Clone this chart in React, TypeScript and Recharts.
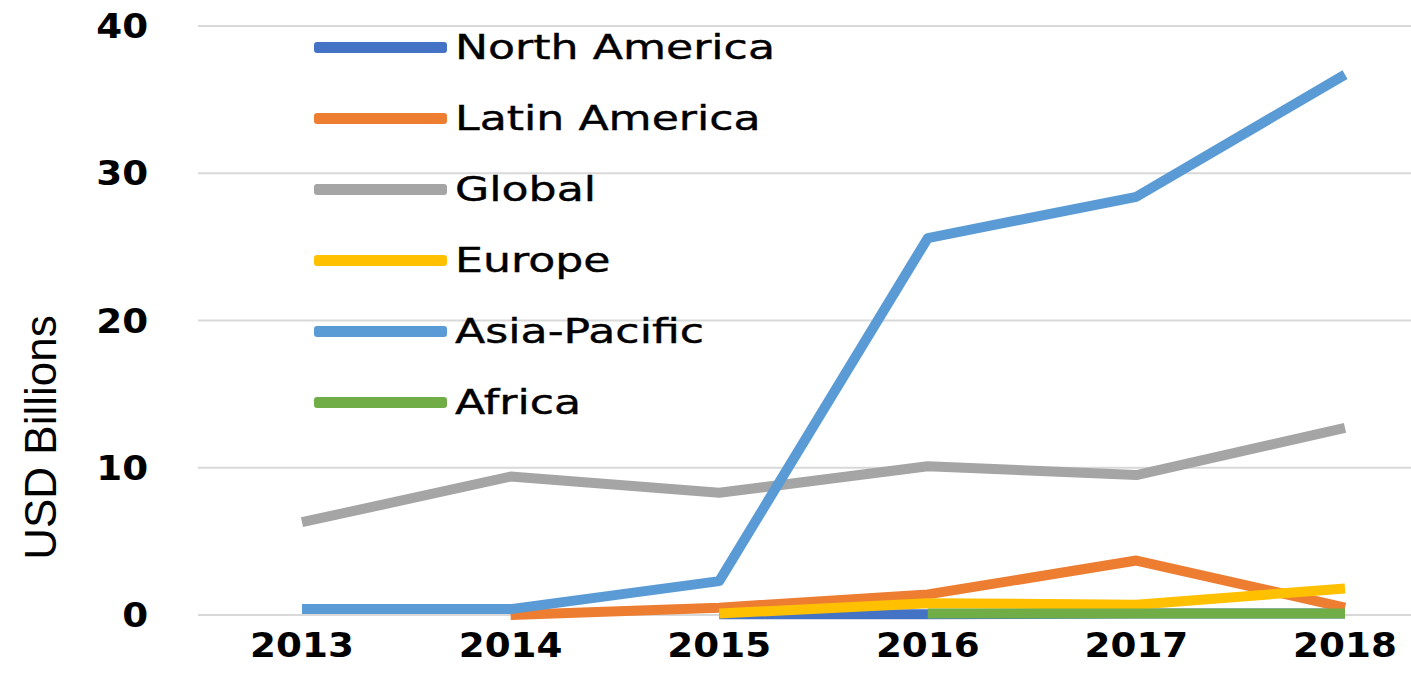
import { LineChart, Line, XAxis, YAxis, CartesianGrid } from 'recharts';

const years = ['2013', '2014', '2015', '2016', '2017', '2018'];
const yTicks = [0, 10, 20, 30, 40];

const northAmerica = [null, null, 0.05, 0.05, 0.1, 0.1];
const latinAmerica = [null, 0, 0.5, 1.4, 3.7, 0.5];
const global = [6.3, 9.4, 8.3, 10.1, 9.5, 12.7];
const europe = [null, null, 0.1, 0.8, 0.7, 1.8];
const asiaPacific = [0.4, 0.4, 2.3, 25.6, 28.4, 36.7];
const africa = [null, null, null, 0.1, 0.1, 0.1];

const series = [
    { key: 'North America', values: northAmerica, color: '#4472C4' },
    { key: 'Latin America', values: latinAmerica, color: '#ED7D31' },
    { key: 'Global', values: global, color: '#A5A5A5' },
    { key: 'Europe', values: europe, color: '#FFC000' },
    { key: 'Asia-Pacific', values: asiaPacific, color: '#5B9BD5' },
    { key: 'Africa', values: africa, color: '#70AD47' },
];

const data = years.map((year, i) => {
    const row: any = { year };
    series.forEach((s) => { row[s.key] = s.values[i]; });
    return row;
});

const XTick = ({ x, y, payload }: any) => (
    <g transform={`translate(${x},${y})`}>
        <text
            x={0}
            y={0}
            dy={34}
            textAnchor="middle"
            transform="scale(1.13,1)"
            fontFamily="DejaVu Sans"
            fontWeight="bold"
            fontSize={33}
            fill="#000"
        >
            {payload.value}
        </text>
    </g>
);

const YTick = ({ x, y, payload }: any) => (
    <g transform={`translate(${x},${y})`}>
        <text
            x={-37}
            y={0}
            dy={12}
            textAnchor="end"
            transform="scale(1.13,1)"
            fontFamily="DejaVu Sans"
            fontWeight="bold"
            fontSize={33}
            fill="#000"
        >
            {payload.value}
        </text>
    </g>
);

// legend is drawn as a plain overlay so it doesn't eat into the plot area
const LegendBox = () => (
    <div style={{ position: 'absolute', left: 314, top: 30 }}>
        {series.map((s, i) => (
            <div key={s.key} style={{ position: 'absolute', left: 0, top: i * 71, height: 34, display: 'flex', alignItems: 'center' }}>
                <div style={{ width: 133, height: 11, background: s.color, borderRadius: 3 }} />
                <span
                    style={{
                        marginLeft: 8,
                        fontFamily: 'DejaVu Sans',
                        fontSize: 34,
                        color: '#000',
                        whiteSpace: 'nowrap',
                        display: 'inline-block',
                        transform: 'scaleX(1.3)',
                        transformOrigin: 'left center',
                        lineHeight: '34px',
                        WebkitTextStroke: '0.4px #000',
                    }}
                >
                    {s.key}
                </span>
            </div>
        ))}
    </div>
);

export default function App() {
    return (
        <div style={{ position: 'absolute', left: 0, top: 0, width: 1411, height: 689, background: '#fff', overflow: 'hidden' }}>
            <LineChart width={1411} height={689} data={data} margin={{ top: 26, right: 0, bottom: 0, left: 0 }}>
                <CartesianGrid vertical={false} stroke="#d9d9d9" strokeWidth={2} />
                <XAxis
                    dataKey="year"
                    padding={{ left: 104, right: 66 }}
                    axisLine={false}
                    tickLine={false}
                    height={74}
                    tick={<XTick />}
                    interval={0}
                />
                <YAxis
                    domain={[0, 40]}
                    ticks={yTicks}
                    width={198}
                    axisLine={false}
                    tickLine={false}
                    tick={<YTick />}
                    label={{
                        value: 'USD Billions',
                        angle: -90,
                        position: 'insideLeft',
                        offset: 0,
                        dx: 40,
                        dy: 117,
                        style: { fontFamily: 'Liberation Sans', fontSize: 44, fill: '#000', textAnchor: 'middle' },
                    }}
                />
                {series.map((s) => (
                    <Line
                        key={s.key}
                        type="linear"
                        dataKey={s.key}
                        stroke={s.color}
                        strokeWidth={10}
                        dot={false}
                        activeDot={false}
                        strokeLinejoin="round"
                        isAnimationActive={false}
                    />
                ))}
            </LineChart>
            <LegendBox />
        </div>
    );
}
